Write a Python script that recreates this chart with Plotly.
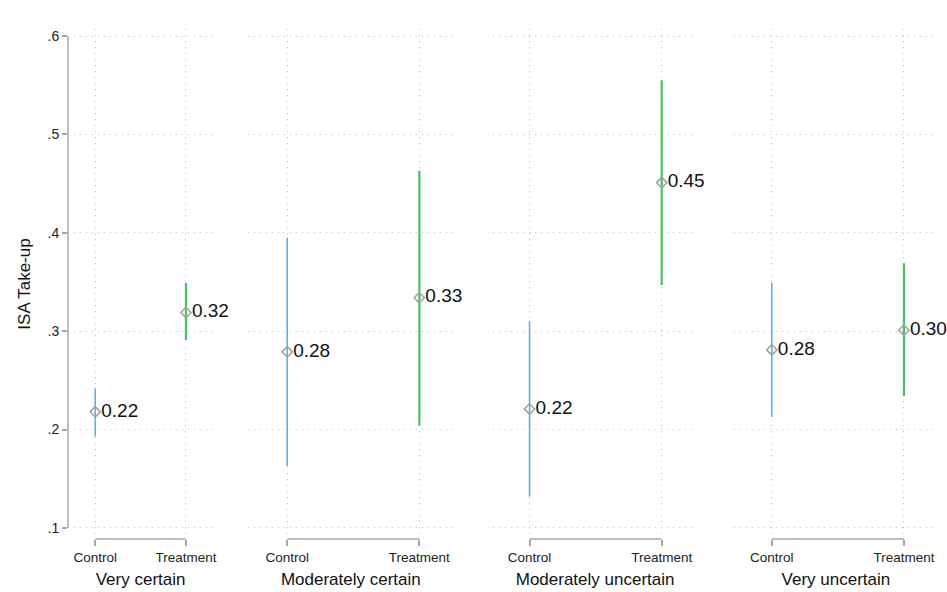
import plotly.graph_objects as go

# ---- data ----
panels = ["Very certain", "Moderately certain", "Moderately uncertain", "Very uncertain"]
groups = ["Control", "Treatment"]
means_control = [0.218, 0.279, 0.221, 0.281]
lo_control = [0.193, 0.163, 0.132, 0.213]
hi_control = [0.242, 0.395, 0.310, 0.349]
means_treat = [0.319, 0.334, 0.451, 0.301]
lo_treat = [0.291, 0.204, 0.347, 0.234]
hi_treat = [0.349, 0.463, 0.555, 0.369]
y_ticks = [0.1, 0.2, 0.3, 0.4, 0.5, 0.6]
y_ticktext = [".1", ".2", ".3", ".4", ".5", ".6"]

# ---- layout geometry ----
S = 1.0045  # small compensation for capture scaling
def sp(px):
    return px * S
W, H = 947, 592
left_px, right_px, top_px, bot_px = sp(68), sp(937), sp(29), sp(537)
ml, mr, mt, mb = left_px, W - right_px, top_px, H - bot_px
pw = right_px - left_px
def d(px):
    return (sp(px) - left_px) / pw
domains = [[0.0, d(213)], [d(248), d(453)], [d(493), d(696)], [d(733), 1.0]]
xranges = [[-0.30, 1.30], [-0.295, 1.258], [-0.273, 1.265], [-0.288, 1.258]]
yrange = [0.1 - 11 / 980, 0.6 + 7 / 980]

BLUE = "#5ab1e6"
GREEN = "#42c463"
GRID = "#c4c4c4"
AXIS = "#a8a8a8"
FONT = "Liberation Sans, Arial, sans-serif"
DOTS = "1px,5px"

fig = go.Figure()

series = [
    (0, means_control, lo_control, hi_control, BLUE, 1.6),
    (1, means_treat, lo_treat, hi_treat, GREEN, 2.2),
]

for i in range(4):
    sfx = "" if i == 0 else str(i + 1)
    for gi, m, lo, hi, col, w in series:
        fig.add_trace(go.Scatter(
            x=[gi], y=[m[i]],
            mode="markers+text",
            text=[f"{m[i]:.2f}"],
            textposition="middle right",
            textfont=dict(size=19, color="#111111", family=FONT),
            marker=dict(symbol="diamond-open", size=8, color="#a0a0a0",
                        line=dict(width=1.5, color="#a0a0a0")),
            error_y=dict(type="data", symmetric=False,
                         array=[hi[i] - m[i]], arrayminus=[m[i] - lo[i]],
                         color=col, thickness=w, width=0),
            xaxis="x" + sfx, yaxis="y" + sfx,
            showlegend=False, cliponaxis=False,
        ))
    xa = dict(
        domain=domains[i], range=xranges[i], anchor="y" + sfx,
        tickmode="array", tickvals=[0, 1], ticktext=groups,
        ticks="outside", ticklen=6, tickcolor=AXIS, tickwidth=1.5,
        tickfont=dict(size=13.5, color="#222222", family=FONT),
        showgrid=True, gridcolor=GRID, griddash=DOTS, gridwidth=1,
        zeroline=False, showline=False,
        title=dict(text=panels[i], font=dict(size=17, color="#111111", family=FONT), standoff=8),
    )
    ya = dict(
        domain=[0, 1], range=yrange, anchor="x" + sfx,
        tickmode="array", tickvals=y_ticks, ticktext=y_ticktext,
        showgrid=True, gridcolor=GRID, griddash=DOTS, gridwidth=1,
        zeroline=False, showline=False,
    )
    if i == 0:
        ya.update(ticks="outside", ticklen=5, tickcolor=AXIS, tickwidth=1.5,
                  tickfont=dict(size=14, color="#222222", family=FONT),
                  title=dict(text="ISA Take-up", font=dict(size=17, color="#111111", family=FONT),
                             standoff=12))
    else:
        ya.update(showticklabels=False, ticks="")
    fig.layout["xaxis" + sfx] = xa
    fig.layout["yaxis" + sfx] = ya
    # x axis line spanning Control to Treatment
    fig.add_shape(type="line", xref="x" + sfx, yref="paper",
                  x0=0, x1=1, y0=0, y1=0,
                  line=dict(color=AXIS, width=1.5))

# y axis line from .1 to .6
fig.add_shape(type="line", xref="paper", yref="y",
              x0=0, x1=0, y0=y_ticks[0], y1=y_ticks[-1],
              line=dict(color=AXIS, width=1.5))

fig.update_layout(
    width=W, height=H,
    margin=dict(l=ml, r=mr, t=mt, b=mb),
    paper_bgcolor="white", plot_bgcolor="white",
    font=dict(family=FONT),
)

fig.write_html(
    "out.html",
    config={"responsive": False, "displayModeBar": False},
    post_script="document.body.style.margin='0';document.body.style.overflow='hidden';",
)
